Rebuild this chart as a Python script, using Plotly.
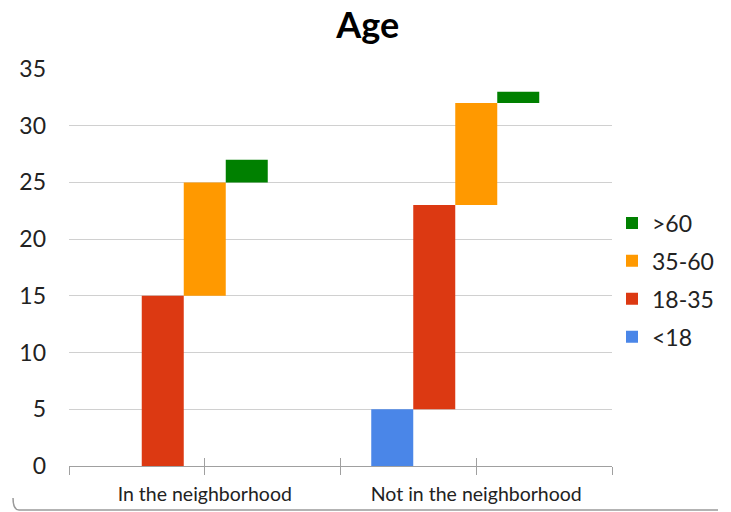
import plotly.graph_objects as go

# Age breakdown of respondents, drawn as floating (cumulative) bars
categories = ["In the neighborhood", "Not in the neighborhood"]
age_groups = ["<18", "18-35", "35-60", ">60"]
counts = {
    "<18": [0, 5],
    "18-35": [15, 18],
    "35-60": [10, 9],
    ">60": [2, 1],
}
colors = {
    "<18": "#4a86e8",
    "18-35": "#dc3912",
    "35-60": "#ff9900",
    ">60": "#008000",
}
y_ticks = [0, 5, 10, 15, 20, 25, 30, 35]

FONT = "Lato, 'Open Sans', sans-serif"
x_pos = list(range(len(categories)))

fig = go.Figure()

running = [0] * len(categories)
for i, grp in enumerate(age_groups):
    vals = counts[grp]
    fig.add_trace(go.Bar(
        x=x_pos,
        y=vals,
        base=list(running),
        name=grp,
        marker=dict(color=colors[grp], line=dict(width=0)),
        legendgroup=grp,
        legendrank=1000 - i,  # oldest age group listed first
    ))
    running = [r + v for r, v in zip(running, vals)]

# empty trailing slot (total column) so each group keeps five bar positions
fig.add_trace(go.Bar(
    x=x_pos, y=[0] * len(categories), base=running,
    marker=dict(color="rgba(0,0,0,0)", line=dict(width=0)),
    showlegend=False, hoverinfo="skip",
))

# boundary and centre ticks on the category axis
tick_vals = [-0.5, 0, 0.5, 1, 1.5]
tick_text = ["", categories[0], "", categories[1], ""]

fig.update_layout(
    width=731, height=512,
    margin=dict(l=69, r=119, t=69, b=46, autoexpand=False),
    paper_bgcolor="white", plot_bgcolor="white",
    barmode="group", bargap=0.2265, bargroupgap=0,
    title=dict(text="<b>Age</b>", x=0.503, xref="container", xanchor="center",
               y=0.975, yref="container", yanchor="top",
               font=dict(family=FONT, size=36, color="#000")),
    font=dict(family=FONT, color="#222"),
    legend=dict(x=1.0, xanchor="left", xref="paper", y=0.4685, yanchor="middle",
                font=dict(size=23, color="#222"), traceorder="grouped",
                tracegroupgap=5, itemclick=False),
    showlegend=True,
    xaxis=dict(
        range=[-0.5, 1.5], tickvals=tick_vals, ticktext=tick_text,
        showgrid=False, zeroline=False, showline=True, linecolor="#a0a0a0",
        linewidth=1, ticks="outside", ticklen=8, tickcolor="#a0a0a0",
        tickfont=dict(size=19.5, color="#222"), ticklabelstandoff=3,
        automargin=False, fixedrange=True,
    ),
    xaxis2=dict(
        range=[-0.5, 1.5], tickvals=tick_vals, overlaying="x", anchor="y",
        side="bottom", showgrid=False, zeroline=False, showline=False,
        ticks="inside", ticklen=8, tickcolor="#a0a0a0", showticklabels=False,
        automargin=False,
    ),
    yaxis=dict(
        range=[0, 35], tickvals=y_ticks, showgrid=True, gridcolor="#d0d0d0",
        zeroline=False, showline=False, ticks="", ticklabelstandoff=22,
        tickfont=dict(size=23, color="#222"), automargin=False, fixedrange=True,
    ),
)

# dummy trace to register the overlay axis
fig.add_trace(go.Scatter(x=[], y=[], xaxis="x2", showlegend=False))

# rounded frame edge along the bottom of the chart card
fig.add_shape(
    type="path", xref="paper", yref="paper",
    path="M -0.1031,-0.0806 Q -0.1031,-0.1108 -0.0921,-0.1108 L 1.1952,-0.1108",
    line=dict(color="#9a9a9a", width=1.5),
)

fig.write_html("out.html")
